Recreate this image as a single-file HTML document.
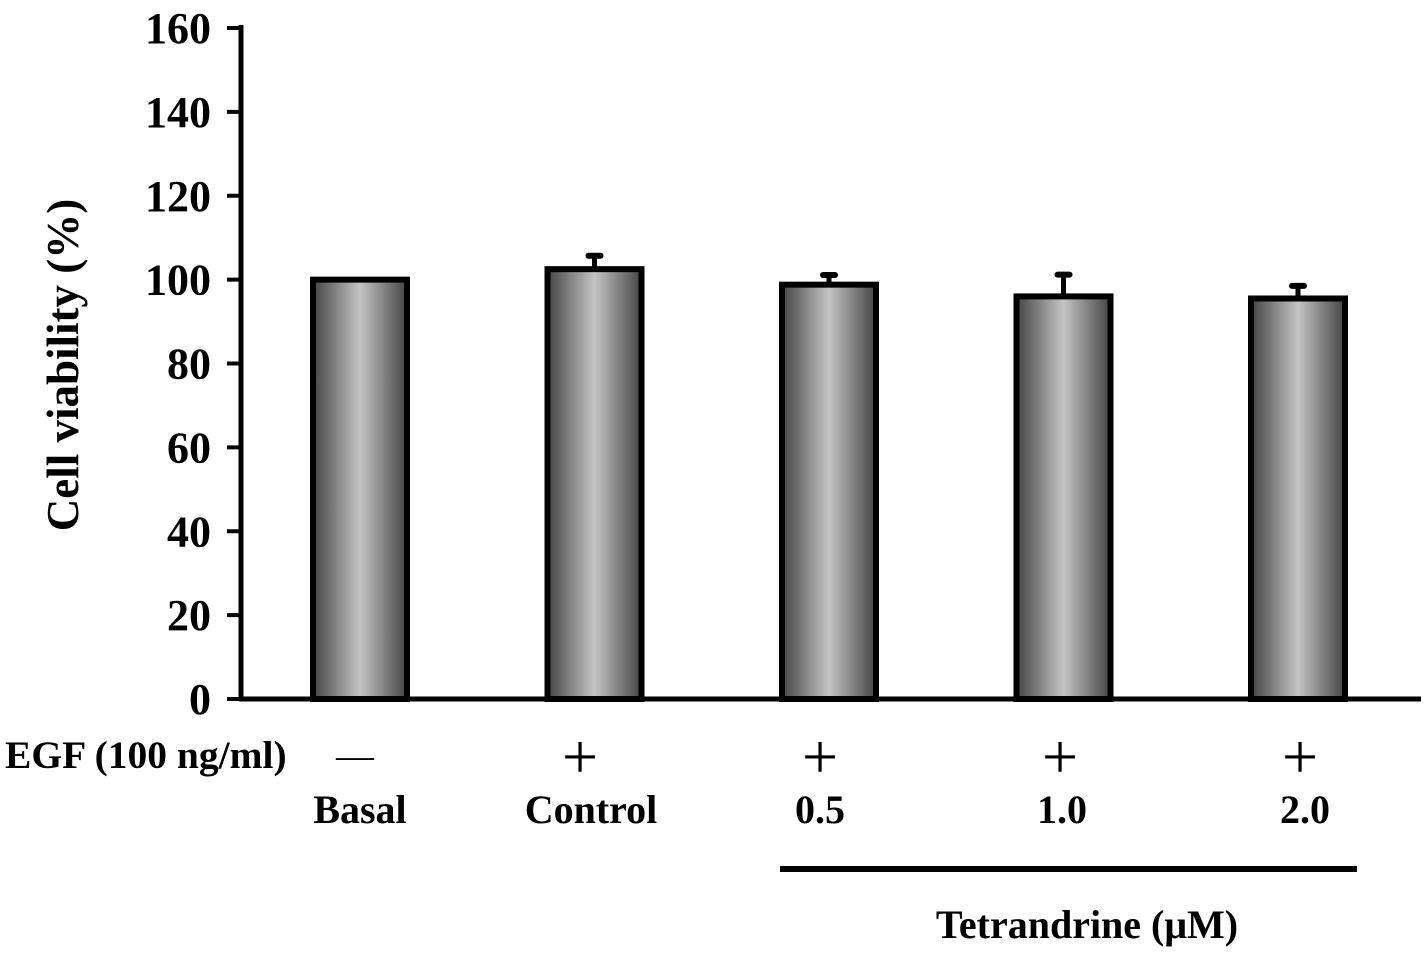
<!DOCTYPE html>
<html><head><meta charset="utf-8"><style>
body{margin:0;background:#fff;width:1426px;height:960px;overflow:hidden}
svg text{font-family:"Liberation Serif",serif;font-weight:bold;fill:#000}
</style></head><body>
<svg width="1426" height="960" xmlns="http://www.w3.org/2000/svg">
<defs><linearGradient id="g" x1="0" x2="1" y1="0" y2="0">
<stop offset="0" stop-color="#444"/><stop offset="0.5" stop-color="#c4c4c4"/><stop offset="1" stop-color="#444"/></linearGradient></defs>
<g id="chart"></g>
</svg>
<script>
const categories=["Basal","Control","0.5","1.0","2.0"];
const egf=["—","+","+","+","+"];
const values=[100,102.5,98.8,96,95.5];
const errors=[0,3.2,2.3,5.2,3];
const yTicks=[0,20,40,60,80,100,120,140,160];
const NS="http://www.w3.org/2000/svg";
const g=document.getElementById('chart');
const y=v=>699-v*(671/160);
const x=i=>360+i*234.5;
const labelX=[360,591,820,1062,1305];
const signX=[355,580,820,1060,1300];
function mk(t,a,txt){const e=document.createElementNS(NS,t);for(const k in a)e.setAttribute(k,a[k]);if(txt!==undefined)e.textContent=txt;g.appendChild(e);return e;}
let e;
e=mk('line',{x1:241,y1:25,x2:241,y2:699,stroke:'#000','stroke-width':5});


e=mk('line',{x1:239,y1:699,x2:1421,y2:699,stroke:'#000','stroke-width':5});


yTicks.forEach(t=>{
 e=mk('line',{x1:227,x2:241,y1:y(t),y2:y(t),stroke:'#000','stroke-width':4});
 
 
 e=mk('text',{x:211,y:y(t)+15,'text-anchor':'end','font-size':44},t);
 
 
});
e=mk('text',{x:0,y:0,'text-anchor':'middle','font-size':45,transform:'translate(78,365) rotate(-90)'},'Cell viability (%)');


categories.forEach((c,i)=>{
 const cx=x(i),w=94;
 if(errors[i]>0){
  e=mk('line',{x1:cx,x2:cx,y1:y(values[i]),y2:y(values[i]+errors[i]),stroke:'#000','stroke-width':5});
  
  
  e=mk('line',{x1:cx-6,x2:cx+6,y1:y(values[i]+errors[i]),y2:y(values[i]+errors[i]),stroke:'#000','stroke-width':6,'stroke-linecap':'round'});
  
  
 }
 e=mk('rect',{x:cx-w/2,y:y(values[i]),width:w,height:699-y(values[i]),fill:'url(#g)',stroke:'#000','stroke-width':6});
 
 
 e=mk('text',{x:labelX[i],y:823,'text-anchor':'middle','font-size':40},c);
 
 
 e=mk('text',{x:signX[i],y:i==0?768:778,'text-anchor':'middle','font-size':i==0?38:64,style:'font-weight:normal'},egf[i]);
 
 
});
e=mk('text',{x:5,y:768,'font-size':39.5},'EGF (100 ng/ml)');


e=mk('line',{x1:780,x2:1357,y1:869,y2:869,stroke:'#000','stroke-width':6});


e=mk('text',{x:1087,y:938,'text-anchor':'middle','font-size':40},'Tetrandrine (μM)');


</script>
</body></html>
